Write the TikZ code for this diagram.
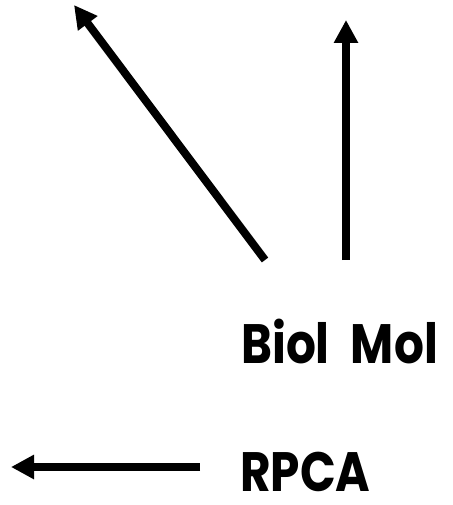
\documentclass[tikz,border=0pt]{standalone}
\usepackage{fontspec}
\setmainfont{Poppins}
\usetikzlibrary{arrows.meta}
\begin{document}
\begin{tikzpicture}[x=1pt,y=-1pt,
  arr/.style={line width=8pt,-{Triangle[length=23pt,width=23pt]}},
  lbl/.style={font=\fontsize{47}{52}\selectfont\bfseries,inner sep=0pt,anchor=base west,text depth=0pt}]
\useasboundingbox (0,0) rectangle (452,505);
\coordinate (t1) at (265,260);
\coordinate (h1) at (74,5);
\coordinate (t2) at (346,260);
\coordinate (h2) at (346,20);
\coordinate (t3) at (200,467);
\coordinate (h3) at (11,467);
\draw[arr] (t1) -- (h1);
\draw[arr] (t2) -- (h2);
\draw[arr] (t3) -- (h3);
\node[lbl] (bio) at (241,363) {\scalebox{1}[1.18]{Biol\hspace{0.45em}Mol}};
\node[lbl] (rpca) at (240,491) {\scalebox{1}[1.18]{RPCA}};
\end{tikzpicture}
\end{document}
